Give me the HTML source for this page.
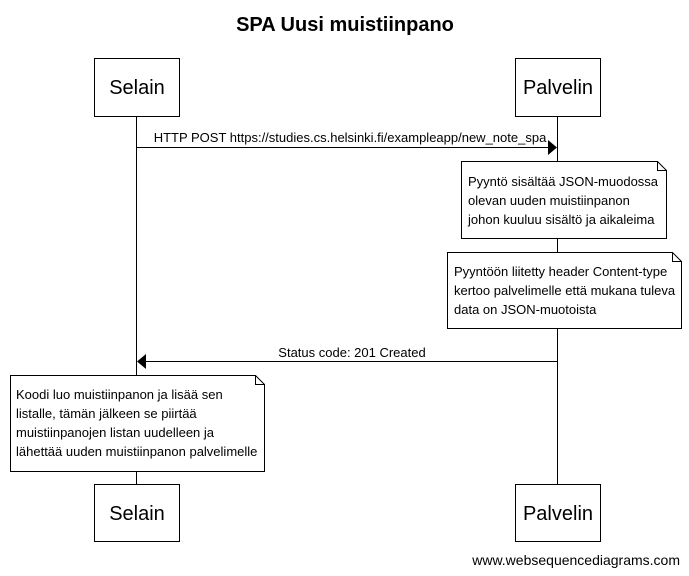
<!DOCTYPE html>
<html><head><meta charset="utf-8"><style>
html,body{margin:0;padding:0;background:#fff;}
svg{display:block;}
text{font-family:"Liberation Sans",sans-serif;fill:#000;}
</style></head><body>
<svg width="689" height="576" viewBox="0 0 689 576" xmlns="http://www.w3.org/2000/svg">
<text x="345" y="31" font-size="20" font-weight="bold" text-anchor="middle">SPA Uusi muistiinpano</text>
<g stroke="#000" stroke-width="1" fill="none">
<line x1="136.5" y1="117" x2="136.5" y2="484"/>
<line x1="557.5" y1="117" x2="557.5" y2="484"/>
</g>
<g stroke="#000" stroke-width="1" fill="#fff">
<rect x="94.5" y="58.5" width="85" height="58"/>
<rect x="515.5" y="58.5" width="85" height="58"/>
<rect x="94.5" y="484.5" width="85" height="57"/>
<rect x="515.5" y="484.5" width="85" height="57"/>
</g>
<g font-size="20" text-anchor="middle">
<text x="137" y="94">Selain</text>
<text x="558" y="94">Palvelin</text>
<text x="137" y="520">Selain</text>
<text x="558" y="520">Palvelin</text>
</g>
<line x1="136" y1="147.5" x2="550" y2="147.5" stroke="#000"/>
<polygon points="557,147.5 548,140 548,155" fill="#000"/>
<text x="350" y="142" font-size="13" text-anchor="middle">HTTP POST https://studies.cs.helsinki.fi/exampleapp/new_note_spa</text>
<g stroke="#000" fill="#fff">
<path d="M461.5,161.5 H657.5 L666.5,170.5 V238.5 H461.5 Z"/>
<path d="M657.5,161.5 V170.5 H666.5" fill="none"/>
<path d="M447.5,252.5 H672.5 L681.5,261.5 V328.5 H447.5 Z"/>
<path d="M672.5,252.5 V261.5 H681.5" fill="none"/>
<path d="M10.5,375.5 H255.5 L264.5,384.5 V471.5 H10.5 Z"/>
<path d="M255.5,375.5 V384.5 H264.5" fill="none"/>
</g>
<g font-size="13">
<text x="468" y="186">Pyyntö sisältää JSON-muodossa</text>
<text x="468" y="205">olevan uuden muistiinpanon</text>
<text x="468" y="224">johon kuuluu sisältö ja aikaleima</text>
<text x="454" y="276">Pyyntöön liitetty header Content-type</text>
<text x="454" y="295">kertoo palvelimelle että mukana tuleva</text>
<text x="454" y="314">data on JSON-muotoista</text>
<text x="16" y="399">Koodi luo muistiinpanon ja lisää sen</text>
<text x="16" y="418">listalle, tämän jälkeen se piirtää</text>
<text x="16" y="437">muistiinpanojen listan uudelleen ja</text>
<text x="16" y="456">lähettää uuden muistiinpanon palvelimelle</text>
</g>
<line x1="144" y1="361.5" x2="557" y2="361.5" stroke="#000"/>
<polygon points="137,361.5 146,354 146,369" fill="#000"/>
<text x="352" y="357" font-size="13" text-anchor="middle">Status code: 201 Created</text>
<text x="680" y="565" font-size="14" text-anchor="end">www.websequencediagrams.com</text>
</svg>
</body></html>
